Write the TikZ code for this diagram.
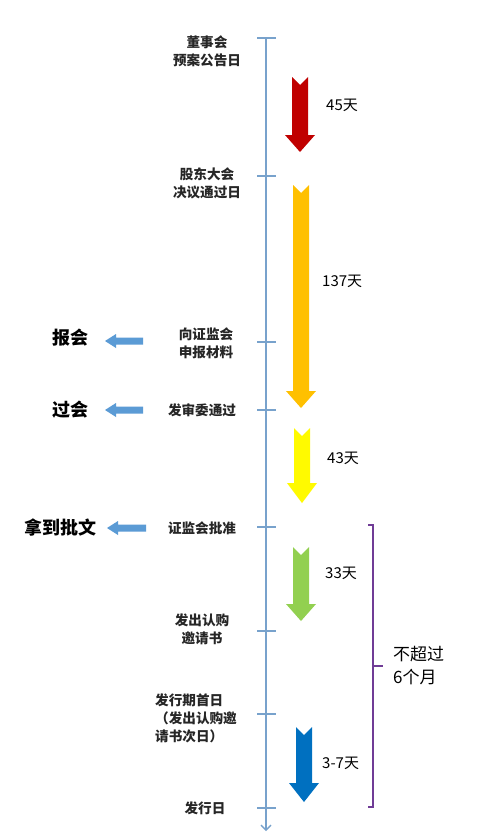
\documentclass[tikz,border=0pt]{standalone}
\usepackage{fontspec}
\setmainfont{Noto Sans CJK SC}
\newfontfamily\cjk{Noto Sans CJK SC}
\usetikzlibrary{arrows.meta}
\definecolor{tline}{RGB}{120,162,204}
\definecolor{larrow}{RGB}{91,155,213}
\definecolor{cred}{RGB}{192,0,0}
\definecolor{corange}{RGB}{255,192,0}
\definecolor{cyellow}{RGB}{255,250,0}
\definecolor{cgreen}{RGB}{146,208,80}
\definecolor{cblue}{RGB}{0,112,192}
\definecolor{cpurple}{RGB}{112,60,150}
\newcommand{\myblockarrow}[5]{%
  \fill[#1] (#2-8,#3) -- (#2,#3+8) -- (#2+8,#3) -- (#2+8,#4) -- (#2+15,#4) -- (#2,#5) -- (#2-15,#4) -- (#2-8,#4) -- cycle;}
\newcommand{\myleftarrow}[3]{%
  \fill[larrow] (#1,#3-3.5) -- (#2+11,#3-3.5) -- (#2+11,#3-7) -- (#2,#3) -- (#2+11,#3+7) -- (#2+11,#3+3.5) -- (#1,#3+3.5) -- cycle;}
\tikzset{
  lbl/.style={font=\cjk\bfseries\fontsize{13.6}{18}\selectfont, align=center, inner sep=0pt, text=black!85},
  big/.style={font=\cjk\bfseries\fontsize{18}{22}\selectfont, inner sep=0pt},
  days/.style={font=\cjk\fontsize{15}{18}\selectfont, inner sep=0pt, anchor=west},
  tick/.style={tline, line width=1.3pt},
}
\begin{document}
\begin{tikzpicture}[x=1pt,y=-1pt]
\useasboundingbox[fill=white] (0,0) rectangle (500,835);
% timeline
\coordinate (ttop) at (266,38);
\coordinate (tbot) at (266,831);
\draw[tline, line width=1.3pt, -{Straight Barb[length=5pt,width=10pt]}] (ttop) -- (tbot);
\foreach \y in {38,176,342,410,527,631,714,808}{
  \draw[tick] (257,\y) -- (276,\y);
}
% timeline labels
\node[lbl] (n1) at (207,51) {董事会\\预案公告日};
\node[lbl] (n2) at (207,183) {股东大会\\决议通过日};
\node[lbl] (n3) at (206,343) {向证监会\\申报材料};
\node[lbl] (n4) at (202,410) {发审委通过};
\node[lbl] (n5) at (202,528) {证监会批准};
\node[lbl] (n6) at (202,629) {发出认购\\邀请书};
\node[lbl, align=left, anchor=west] (n7) at (155,718) {发行期首日\\（发出认购邀\\请书次日）};
\node[lbl] (n8) at (205,808) {发行日};
% left labels
\node[big] (b1) at (70,338) {报会};
\node[big] (b2) at (70,410) {过会};
\node[big] (b3) at (60,528) {拿到批文};
\myleftarrow{143}{105}{341}
\myleftarrow{143}{105}{410}
\myleftarrow{146}{107}{528}
% block arrows
\myblockarrow{cred}{300}{77}{135}{152}
\myblockarrow{corange}{301}{185}{391}{408}
\myblockarrow{cyellow}{302}{428}{483}{503}
\myblockarrow{cgreen}{301}{547}{604}{621}
\myblockarrow{cblue}{304}{727}{783}{802}
% day labels
\node[days] (d1) at (326,105) {45天};
\node[days] (d2) at (322,281) {137天};
\node[days] (d3) at (327,458) {43天};
\node[days] (d4) at (325,573) {33天};
\node[days] (d5) at (322,763) {3-7天};
% bracket
\coordinate (bt) at (373,525);
\coordinate (bb) at (373,807);
\coordinate (bm) at (373,666);
\draw[cpurple, line width=1.4pt] (368,525) -- (bt) -- (bb) -- (368,807);
\draw[cpurple, line width=1.4pt] (bm) -- (383,666);
\node[font=\cjk\fontsize{17}{23}\selectfont, align=left, anchor=west, inner sep=0pt] (six) at (393,666) {不超过\\6个月};
\end{tikzpicture}
\end{document}
